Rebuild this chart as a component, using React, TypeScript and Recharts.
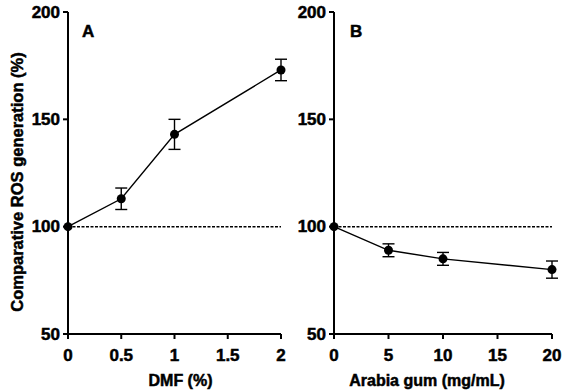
import {
  ComposedChart,
  Line,
  XAxis,
  YAxis,
  ErrorBar,
  ReferenceLine,
  Label,
} from "recharts";

const dmfLevels = [0, 0.5, 1, 2];
const dmfRos = [100, 113, 143, 173];
const dmfErr = [0, 5, 7, 5];

const gumLevels = [0, 5, 10, 20];
const gumRos = [100, 89, 85, 80];
const gumErr = [0, 3, 3, 4];

const yTicks = [50, 100, 150, 200];
const dmfTicks = [0, 0.5, 1, 1.5, 2];
const gumTicks = [0, 5, 10, 15, 20];

const FONT = "'Liberation Sans', Arial, sans-serif";

// bold text with a thin outline, the scanned figure prints heavy
const textProps = {
  fontFamily: FONT,
  fontWeight: "bold",
  fontSize: 16,
  fill: "#000",
  stroke: "#000",
  strokeWidth: 0.5,
};

const toRows = (xs: number[], ys: number[], es: number[]) =>
  xs.map((x, i) => ({ x, y: ys[i], err: es[i] }));

function XTick(props: any) {
  const { x, y, payload } = props;
  return (
    <text x={x} y={y + 7} textAnchor="middle" dominantBaseline="hanging" {...textProps} fontSize={17}>
      {payload.value}
    </text>
  );
}

function YTick(props: any) {
  const { x, y, payload } = props;
  return (
    <text x={x} y={y} textAnchor="end" dominantBaseline="central" {...textProps} fontSize={17}>
      {payload.value}
    </text>
  );
}

function YTitle(props: any) {
  const { viewBox } = props;
  const cx = viewBox.x + 9;
  const cy = viewBox.y + viewBox.height / 2 + 9;
  return (
    <text
      x={cx}
      y={cy}
      transform={`rotate(-90 ${cx} ${cy})`}
      textAnchor="middle"
      dominantBaseline="central"
      {...textProps}
      fontSize={16.5}
    >
      Comparative ROS generation (%)
    </text>
  );
}

function XTitle({ text, shift }: { text: string; shift: number }) {
  return (props: any) => {
    const { viewBox } = props;
    const cx = viewBox.x + viewBox.width / 2 + shift;
    const cy = viewBox.y + 46;
    return (
      <text x={cx} y={cy} textAnchor="middle" dominantBaseline="central" {...textProps}>
        {text}
      </text>
    );
  };
}

interface PanelProps {
  rows: { x: number; y: number; err: number }[];
  xTicks: number[];
  xMax: number;
  width: number;
  marginLeft: number;
  yWidth: number;
  marginRight: number;
  xTitle: string;
  xShift: number;
  showYTitle: boolean;
}

function Panel(p: PanelProps) {
  return (
    <ComposedChart
      width={p.width}
      height={392}
      data={p.rows}
      margin={{ top: 12, right: p.marginRight, left: p.marginLeft, bottom: 28 }}
    >
      <XAxis
        dataKey="x"
        type="number"
        domain={[0, p.xMax]}
        ticks={p.xTicks}
        stroke="#000"
        strokeWidth={2}
        tickSize={5}
        tickMargin={3}
        tick={<XTick />}
        height={30}
        interval={0}
      >
        <Label content={XTitle({ text: p.xTitle, shift: p.xShift })} />
      </XAxis>
      <YAxis
        type="number"
        domain={[50, 200]}
        ticks={yTicks}
        stroke="#000"
        strokeWidth={2}
        tickSize={5}
        tickMargin={3}
        tick={<YTick />}
        width={p.yWidth}
        interval={0}
      >
        {p.showYTitle && <Label content={YTitle} />}
      </YAxis>
      <ReferenceLine y={100} stroke="#000" strokeWidth={1.5} strokeDasharray="3 1.5" />
      <Line
        dataKey="y"
        stroke="#000"
        strokeWidth={1.4}
        dot={{ r: 4.5, fill: "#000", stroke: "#000", strokeWidth: 0 }}
        activeDot={false}
        isAnimationActive={false}
      >
        <ErrorBar dataKey="err" width={6} stroke="#000" strokeWidth={1.4} direction="y" />
      </Line>
    </ComposedChart>
  );
}

const panelLetter = {
  position: "absolute" as const,
  fontFamily: FONT,
  fontWeight: 700,
  fontSize: 17,
  lineHeight: "17px",
  color: "#000",
  WebkitTextStroke: "0.5px #000",
};

export default function App() {
  return (
    <div style={{ position: "absolute", left: 0, top: 0, width: 565, height: 392, background: "#fff" }}>
      <div style={{ position: "absolute", left: 0, top: 0 }}>
        <Panel
          rows={toRows(dmfLevels, dmfRos, dmfErr)}
          xTicks={dmfTicks}
          xMax={2}
          width={290}
          marginLeft={8}
          yWidth={60}
          marginRight={9}
          xTitle="DMF (%)"
          xShift={6}
          showYTitle
        />
      </div>
      <div style={{ position: "absolute", left: 290, top: 0 }}>
        <Panel
          rows={toRows(gumLevels, gumRos, gumErr)}
          xTicks={gumTicks}
          xMax={20}
          width={275}
          marginLeft={0}
          yWidth={44}
          marginRight={13}
          xTitle="Arabia gum (mg/mL)"
          xShift={-16}
          showYTitle={false}
        />
      </div>
      <div style={{ ...panelLetter, left: 82, top: 23 }}>A</div>
      <div style={{ ...panelLetter, left: 350, top: 23 }}>B</div>
    </div>
  );
}
